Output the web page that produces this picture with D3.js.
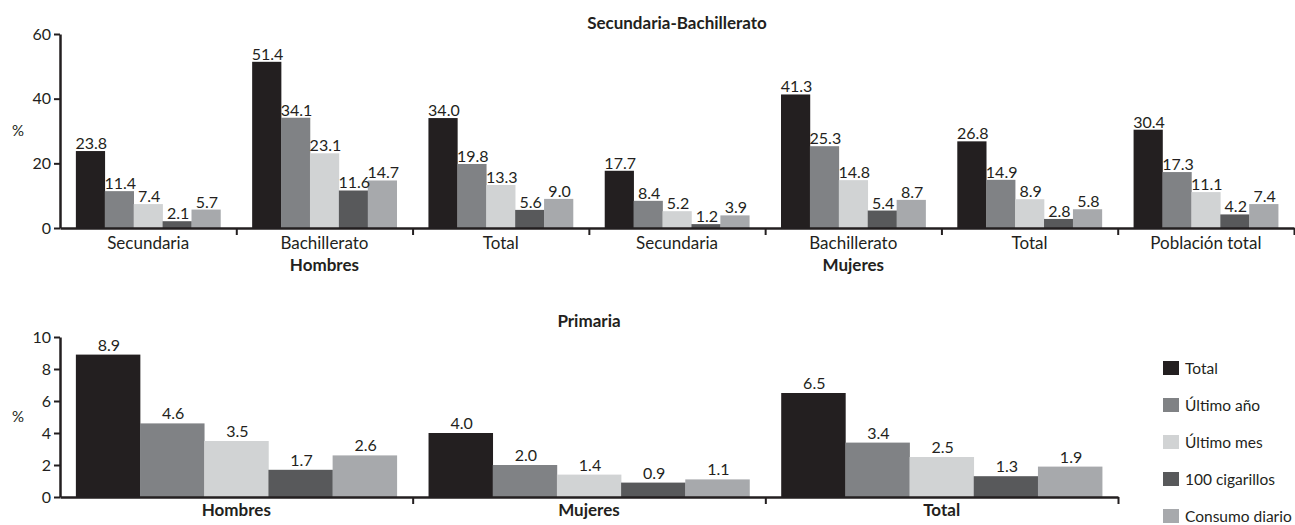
<!DOCTYPE html>
<html>
<head>
<meta charset="utf-8">
<script src="https://cdn.jsdelivr.net/npm/d3@7"></script>
<style>
	body { margin: 0; background: #fff; }
	text { font-family: Lato, "Open Sans", sans-serif; fill: #231f20; }
</style>
</head>
<body>
<div id="chart"></div>
<script>
// series (legend order)
var series = ["Total", "Último año", "Último mes", "100 cigarillos", "Consumo diario"];
var seriesColors = ["#231f20", "#808285", "#d1d3d4", "#58595b", "#a7a9ac"];

// Secundaria-Bachillerato
var secCategories = ["Secundaria", "Bachillerato", "Total", "Secundaria", "Bachillerato", "Total", "Población total"];
var secGroupLabels = ["", "Hombres", "", "", "Mujeres", "", ""];
var secTotal = [23.8, 51.4, 34.0, 17.7, 41.3, 26.8, 30.4];
var secUltimoAno = [11.4, 34.1, 19.8, 8.4, 25.3, 14.9, 17.3];
var secUltimoMes = [7.4, 23.1, 13.3, 5.2, 14.8, 8.9, 11.1];
var secCien = [2.1, 11.6, 5.6, 1.2, 5.4, 2.8, 4.2];
var secDiario = [5.7, 14.7, 9.0, 3.9, 8.7, 5.8, 7.4];
var secTicks = [0, 20, 40, 60];

// Primaria
var priCategories = ["Hombres", "Mujeres", "Total"];
var priTotal = [8.9, 4.0, 6.5];
var priUltimoAno = [4.6, 2.0, 3.4];
var priUltimoMes = [3.5, 1.4, 2.5];
var priCien = [1.7, 0.9, 1.3];
var priDiario = [2.6, 1.1, 1.9];
var priTicks = [0, 2, 4, 6, 8, 10];

var svg = d3.select("#chart")
	.append("svg")
	.attr("width", 1295)
	.attr("height", 525);

var fmt = d3.format(".1f");

function drawPanel(p) {
	var n = p.categories.length;
	var g = svg.append("g");

	var y = d3.scaleLinear()
		.domain([0, d3.max(p.ticks)])
		.range([p.bottom, p.top]);

	// group boundaries
	var xb = d3.scaleLinear()
		.domain([0, n])
		.range([p.left, p.right]);

	var x0 = d3.scaleBand()
		.domain(d3.range(n))
		.range([p.left, p.right])
		.paddingInner(p.pad)
		.paddingOuter(p.pad / 2);

	var x1 = d3.scaleBand()
		.domain(d3.range(series.length))
		.range([0, x0.bandwidth()]);

	// bars
	var rows = [];
	p.values.forEach(function(vals, s) {
		vals.forEach(function(v, i) {
			rows.push({ s: s, i: i, v: v });
		});
	});

	g.selectAll("rect.bar")
		.data(rows)
		.enter()
		.append("rect")
		.attr("class", "bar")
		.attr("x", function(d) { return x0(d.i) + x1(d.s); })
		.attr("y", function(d) { return y(d.v); })
		.attr("width", x1.bandwidth() + 0.3)
		.attr("height", function(d) { return y(0) - y(d.v); })
		.attr("fill", function(d) { return seriesColors[d.s]; });

	g.selectAll("text.val")
		.data(rows)
		.enter()
		.append("text")
		.attr("class", "val")
		.attr("x", function(d) { return x0(d.i) + x1(d.s) + x1.bandwidth() / 2 + 1; })
		.attr("y", function(d) { return y(d.v) - p.labelGap; })
		.attr("text-anchor", "middle")
		.style("font-size", "16px")
		.text(function(d) { return fmt(d.v); });

	// Y axis
	var yAxis = g.append("g")
		.attr("transform", "translate(" + p.left + ",0)")
		.call(d3.axisLeft(y).tickValues(p.ticks).tickSizeInner(6).tickSizeOuter(0).tickPadding(3));
	yAxis.select(".domain").attr("stroke", "#231f20").attr("stroke-width", 2.5);
	yAxis.selectAll(".tick line").attr("stroke", "#231f20").attr("stroke-width", 2);
	yAxis.selectAll(".tick text")
		.style("font-size", "16px")
		.style("font-family", "Lato, sans-serif")
		.attr("fill", "#231f20");

	// X axis with ticks between groups
	var xAxis = g.append("g")
		.attr("transform", "translate(0," + p.bottom + ")")
		.call(d3.axisBottom(xb).tickValues(d3.range(1, n + 1)).tickFormat("").tickSizeInner(7).tickSizeOuter(0));
	xAxis.select(".domain").attr("stroke", "#231f20").attr("stroke-width", 2.5);
	xAxis.selectAll(".tick line").attr("stroke", "#231f20").attr("stroke-width", 2);

	g.selectAll("text.cat")
		.data(p.categories)
		.enter()
		.append("text")
		.attr("class", "cat")
		.attr("x", function(d, i) { return x0(i) + x0.bandwidth() / 2; })
		.attr("y", p.bottom + p.catGap)
		.attr("text-anchor", "middle")
		.style("font-size", "17px")
		.style("font-weight", p.boldCats ? "bold" : "normal")
		.text(function(d) { return d; });

	if (p.groupLabels) {
		g.selectAll("text.grp")
			.data(p.groupLabels)
			.enter()
			.append("text")
			.attr("class", "grp")
			.attr("x", function(d, i) { return x0(i) + x0.bandwidth() / 2; })
			.attr("y", p.bottom + p.catGap + 22)
			.attr("text-anchor", "middle")
			.style("font-size", "17px")
			.style("font-weight", "bold")
			.text(function(d) { return d; });
	}

	// title
	g.append("text")
		.attr("x", (p.left + p.right) / 2)
		.attr("y", p.titleY)
		.attr("text-anchor", "middle")
		.style("font-size", "17px")
		.style("font-weight", "bold")
		.text(p.title);

	// % label
	g.append("text")
		.attr("x", 18)
		.attr("y", (p.top + p.bottom) / 2 + 5)
		.attr("text-anchor", "middle")
		.style("font-size", "15px")
		.text("%");
}

drawPanel({
	title: "Secundaria-Bachillerato",
	categories: secCategories,
	groupLabels: secGroupLabels,
	values: [secTotal, secUltimoAno, secUltimoMes, secCien, secDiario],
	ticks: secTicks,
	left: 60, right: 1294, top: 34, bottom: 228,
	pad: 0.18, labelGap: 2, catGap: 21, titleY: 29, boldCats: false
});

drawPanel({
	title: "Primaria",
	categories: priCategories,
	values: [priTotal, priUltimoAno, priUltimoMes, priCien, priDiario],
	ticks: priTicks,
	left: 60, right: 1118, top: 337, bottom: 497,
	pad: 0.09, labelGap: 4, catGap: 19, titleY: 327, boldCats: true
});

// Legend
var legend = svg.append("g")
	.attr("transform", "translate(1163,368)");

var items = legend.selectAll("g")
	.data(series)
	.enter()
	.append("g")
	.attr("transform", function(d, i) { return "translate(0," + (i * 37) + ")"; });

items.append("rect")
	.attr("x", 0)
	.attr("y", -7)
	.attr("width", 16)
	.attr("height", 14)
	.attr("fill", function(d, i) { return seriesColors[i]; });

items.append("text")
	.attr("x", 22)
	.attr("y", 5.5)
	.style("font-size", "15.5px")
	.text(function(d) { return d; });
</script>
</body>
</html>
